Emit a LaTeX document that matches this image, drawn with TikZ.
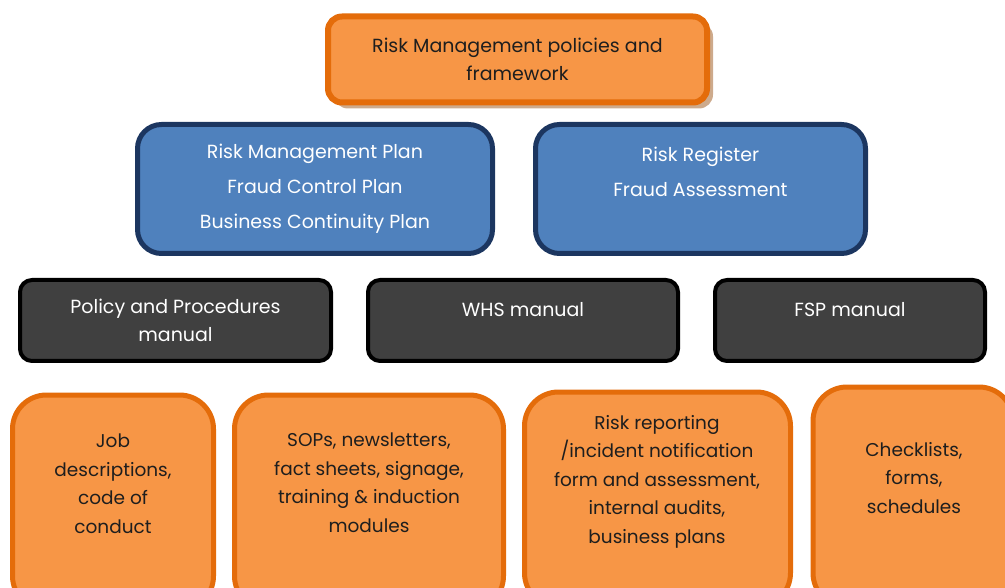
\documentclass[tikz,border=0pt]{standalone}
\usepackage{fontspec}
\setmainfont{Poppins}
\usetikzlibrary{positioning,shadows}
\definecolor{RiskOrange}{RGB}{247,150,70}
\definecolor{RiskOrangeLine}{RGB}{228,108,10}
\definecolor{RiskBlue}{RGB}{79,129,189}
\definecolor{RiskNavy}{RGB}{28,54,96}
\definecolor{ManualGrey}{RGB}{64,64,64}
\definecolor{ShadowTan}{RGB}{205,170,140}
\definecolor{TextDark}{RGB}{30,30,30}
\newcommand{\emptyline}{\rule{0pt}{0pt}}
\tikzset{
  framework/.style={draw=RiskOrangeLine,fill=RiskOrange,line width=6pt,
    rounded corners=14pt,minimum width=379pt,minimum height=86pt,
    align=center,text=TextDark,font={\fontsize{19}{28}\selectfont},
    drop shadow={shadow xshift=6pt,shadow yshift=-6pt,fill=ShadowTan,opacity=1}},
  plan/.style={draw=RiskNavy,fill=RiskBlue,line width=5pt,rounded corners=24pt,
    minimum height=129pt,align=center,text=white,
    font={\fontsize{19}{35}\selectfont}},
  manual/.style={draw=black,fill=ManualGrey,line width=4pt,rounded corners=12pt,
    minimum height=81pt,align=center,text=white,
    font={\fontsize{19}{28}\selectfont}},
  toolbox/.style={draw=RiskOrangeLine,fill=RiskOrange,line width=5pt,
    rounded corners=34pt,anchor=north},
  tooltext/.style={align=center,text=TextDark,font={\fontsize{18.5}{28.5}\selectfont}}
}
\begin{document}
\begin{tikzpicture}[x=1pt,y=-1pt]
  \useasboundingbox (0,0) rectangle (1005,588);
  \clip (0,0) rectangle (1005,588);
  % top level
  \node[framework] (policy) at (517.5,59.5) {Risk Management policies and\\framework};
  % plans and registers
  \node[plan,minimum width=355pt] (plans) at (315,189)
    {Risk Management Plan\\Fraud Control Plan\\Business Continuity Plan};
  \node[plan,minimum width=330pt] (register) at (700.5,189)
    {Risk Register\\Fraud Assessment\\\emptyline};
  % manuals
  \node[manual,minimum width=311pt] (polman) at (175.5,320.5)
    {Policy and Procedures\\manual};
  \node[manual,minimum width=310pt] (whs) at (523,320.5) {WHS manual\\[-5pt]\emptyline};
  \node[manual,minimum width=270pt] (fsp) at (850,320.5) {FSP manual\\[-5pt]\emptyline};
  % supporting documents
  \node[toolbox,minimum width=201pt,minimum height=215pt] (jobs) at (113,392.5) {};
  \node[toolbox,minimum width=269pt,minimum height=215pt] (sops) at (369,392.5) {};
  \node[toolbox,minimum width=266pt,minimum height=215pt] (reports) at (657.5,389.5) {};
  \node[toolbox,minimum width=200pt,minimum height=220pt] (checks) at (913,384.5) {};
  \node[tooltext] (jobstext) at (113,483.5)
    {Job\\descriptions,\\code of\\conduct};
  \node[tooltext] (sopstext) at (369,482.5)
    {SOPs, newsletters,\\fact sheets, signage,\\training \& induction\\modules};
  \node[tooltext] (reportstext) at (657,481.5)
    {Risk reporting\\/incident notification\\form and assessment,\\internal audits,\\business plans};
  \node[tooltext] (checkstext) at (914,478)
    {Checklists,\\forms,\\schedules};
\end{tikzpicture}
\end{document}
